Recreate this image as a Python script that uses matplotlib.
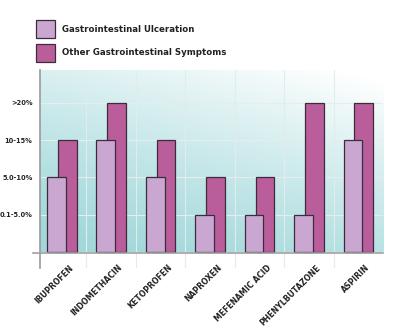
import numpy as np
import matplotlib.pyplot as plt
from matplotlib.patches import Rectangle

drugs = ["IBUPROFEN", "INDOMETHACIN", "KETOPROFEN", "NAPROXEN",
         "MEFENAMIC ACID", "PHENYLBUTAZONE", "ASPIRIN"]
# 1 = 0.1-5.0%, 2 = 5.0-10%, 3 = 10-15%, 4 = >20%
ulceration = [2, 3, 2, 1, 1, 1, 3]
other_symptoms = [3, 4, 3, 2, 2, 4, 4]
level_labels = ["0.1-5.0%", "5.0-10%", "10-15%", ">20%"]
series_names = ["Gastrointestinal Ulceration", "Other Gastrointestinal Symptoms"]

light = "#c9a7d1"
dark = "#b95e9b"
edge = "#3d2b3b"
teal = np.array([0.64, 0.85, 0.86])
narrow = ["DejaVu Sans Condensed", "Liberation Sans Narrow", "DejaVu Sans"]

fig = plt.figure(figsize=(4.09, 3.32), dpi=100)
ax = fig.add_axes([0.0966, 0.193, 0.84, 0.596])

x = np.arange(len(drugs))
xmin, xmax = -0.45, 6.5
ymin, ymax = -0.43, 4.88
ax.set_xlim(xmin, xmax)
ax.set_ylim(ymin, ymax)

# background fade: teal at the bottom, white towards the upper right
gx, gy = np.meshgrid(np.linspace(0, 1, 200), np.linspace(0, 1, 200))
f = np.clip(0.75 * gy + 0.4 * gx - 0.1, 0, 1) ** 1.2
img = teal[None, None, :] * (1 - f[..., None]) + f[..., None]
ax.imshow(img, extent=(xmin, xmax, 0, ymax), origin="lower", aspect="auto", zorder=0)

# faint grid
for lv in range(1, 5):
    ax.axhline(lv, color="#e4eeee", lw=0.8, zorder=1)
for gxl in x[:-1] + 0.5:
    ax.axvline(gxl, color="#e2ecec", lw=0.8, zorder=1)

w = 0.38
ax.bar(x + 0.11, other_symptoms, width=w, color=dark, edgecolor=edge, lw=0.9, zorder=2)
ax.bar(x - 0.11, ulceration, width=w, color=light, edgecolor=edge, lw=0.9, zorder=3)

for s in ax.spines.values():
    s.set_visible(False)
ax.plot([xmin, xmin], [ymin, ymax], color="#9a9a9a", lw=1.2, clip_on=False, zorder=4)
ax.plot([xmin - 0.14, xmax], [-0.04, -0.04], color="#a0a0a0", lw=1.2, clip_on=False, zorder=4)

ax.set_yticks(range(1, 5))
ax.set_yticklabels(level_labels, fontsize=4.8, fontweight="bold", color="#222222",
                   family=narrow)
ax.tick_params(axis="y", length=0, pad=5)
ax.set_xticks([])

for xi, name in zip(x, drugs):
    ax.text(xi + 0.14, -0.3, name, rotation=45, ha="right", va="top",
            rotation_mode="anchor", fontsize=5.6, fontweight="bold", color="#222222")

# legend boxes
for i, (c, name) in enumerate(zip([light, dark], series_names)):
    y0 = 332 - 38 - i * 23.5
    fig.patches.append(Rectangle((36 / 409, y0 / 332), 19 / 409, 18 / 332,
                                 transform=fig.transFigure, facecolor=c,
                                 edgecolor=edge, lw=0.9))
    fig.text(62 / 409, (y0 + 9) / 332, name, fontsize=6.2, fontweight="bold",
             color="#222222", va="center", ha="left")

fig.savefig("out.png", dpi=100)
